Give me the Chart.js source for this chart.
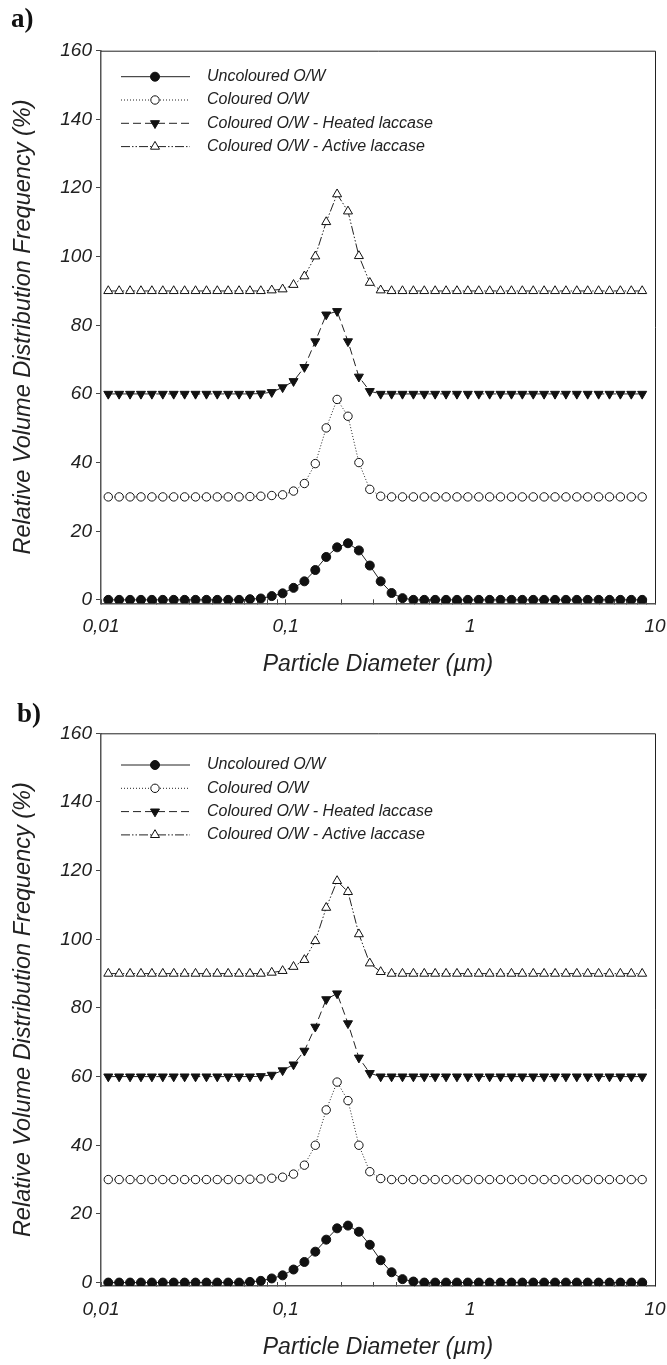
<!DOCTYPE html>
<html>
<head>
<meta charset="utf-8">
<script src="https://cdn.jsdelivr.net/npm/chart.js@4.4.1/dist/chart.umd.min.js"></script>
<style>
  html, body { margin: 0; padding: 0; background: #fff; }
  #page { position: relative; width: 667px; height: 1365px; }
  canvas { position: absolute; left: 0; }
  .panel { position: absolute; font: bold 27px "Liberation Serif", "Times New Roman", serif; color: #111; }
</style>
</head>
<body>
<div id="page">
  <canvas id="chartA" width="667" height="682" style="top:0"></canvas>
  <canvas id="chartB" width="667" height="683" style="top:682px"></canvas>
  <div class="panel" style="left:11px; top:3px">a)</div>
  <div class="panel" style="left:17px; top:698px">b)</div>
</div>
<script>
// particle size classes (µm)
const diameters = [
    0.01095, 0.01254, 0.01437, 0.01646, 0.01886, 0.02161, 0.02476, 0.02837, 0.0325, 0.03724,
    0.04262, 0.04882, 0.05592, 0.06404, 0.07337, 0.08406, 0.09627, 0.1103, 0.1263, 0.1447,
    0.1658, 0.1899, 0.2175, 0.2492, 0.2855, 0.327, 0.3746, 0.4291, 0.4916, 0.5631,
    0.645, 0.7389, 0.8465, 0.9694, 1.111, 1.272, 1.457, 1.67, 1.912, 2.191,
    2.509, 2.875, 3.293, 3.772, 4.321, 4.95, 5.67, 6.495, 7.44, 8.523,
];

const seriesNames = [
    "Uncoloured O/W",
    "Coloured O/W",
    "Coloured O/W - Heated laccase",
    "Coloured O/W - Active laccase",
];

// panel a)
const uncolouredA = [
    0, 0, 0, 0, 0, 0, 0, 0, 0, 0,
    0, 0, 0, 0.2, 0.4, 1.1, 1.9, 3.5, 5.4, 8.7,
    12.5, 15.3, 16.5, 14.4, 10.0, 5.4, 2.0, 0.5, 0, 0,
    0, 0, 0, 0, 0, 0, 0, 0, 0, 0,
    0, 0, 0, 0, 0, 0, 0, 0, 0, 0,
];
const colouredA = [
    30, 30, 30, 30, 30, 30, 30, 30, 30, 30,
    30, 30, 30, 30.1, 30.2, 30.4, 30.6, 31.7, 33.9, 39.7,
    50.1, 58.4, 53.5, 40.0, 32.2, 30.2, 30, 30, 30, 30,
    30, 30, 30, 30, 30, 30, 30, 30, 30, 30,
    30, 30, 30, 30, 30, 30, 30, 30, 30, 30,
];
const heatedA = [
    60, 60, 60, 60, 60, 60, 60, 60, 60, 60,
    60, 60, 60, 60, 60.1, 60.5, 61.9, 63.7, 67.8, 75.3,
    83.1, 84.1, 75.3, 65.0, 60.8, 60, 60, 60, 60, 60,
    60, 60, 60, 60, 60, 60, 60, 60, 60, 60,
    60, 60, 60, 60, 60, 60, 60, 60, 60, 60,
];
const activeA = [
    90, 90, 90, 90, 90, 90, 90, 90, 90, 90,
    90, 90, 90, 90, 90, 90.2, 90.5, 91.8, 94.3, 100.1,
    110.1, 118.2, 113.2, 100.2, 92.4, 90.2, 90, 90, 90, 90,
    90, 90, 90, 90, 90, 90, 90, 90, 90, 90,
    90, 90, 90, 90, 90, 90, 90, 90, 90, 90,
];

// panel b)
const uncolouredB = [
    0, 0, 0, 0, 0, 0, 0, 0, 0, 0,
    0, 0, 0, 0.2, 0.5, 1.2, 2.1, 3.8, 6.0, 9.0,
    12.5, 15.8, 16.6, 14.8, 11.0, 6.5, 3.0, 1.0, 0.3, 0,
    0, 0, 0, 0, 0, 0, 0, 0, 0, 0,
    0, 0, 0, 0, 0, 0, 0, 0, 0, 0,
];
const colouredB = [
    30, 30, 30, 30, 30, 30, 30, 30, 30, 30,
    30, 30, 30, 30.1, 30.2, 30.4, 30.7, 31.6, 34.2, 40.0,
    50.3, 58.4, 53.0, 40.0, 32.3, 30.3, 30, 30, 30, 30,
    30, 30, 30, 30, 30, 30, 30, 30, 30, 30,
    30, 30, 30, 30, 30, 30, 30, 30, 30, 30,
];
const heatedB = [
    60, 60, 60, 60, 60, 60, 60, 60, 60, 60,
    60, 60, 60, 60, 60.1, 60.5, 61.8, 63.5, 67.5, 74.5,
    82.5, 84.2, 75.5, 65.5, 61.0, 60, 60, 60, 60, 60,
    60, 60, 60, 60, 60, 60, 60, 60, 60, 60,
    60, 60, 60, 60, 60, 60, 60, 60, 60, 60,
];
const activeB = [
    90, 90, 90, 90, 90, 90, 90, 90, 90, 90,
    90, 90, 90, 90, 90, 90.3, 90.8, 92.0, 94.0, 99.5,
    109.2, 117.0, 113.8, 101.5, 93.0, 90.5, 90, 90, 90, 90,
    90, 90, 90, 90, 90, 90, 90, 90, 90, 90,
    90, 90, 90, 90, 90, 90, 90, 90, 90, 90,
];

const xTickValues = [
    0.01, 0.02, 0.03, 0.04, 0.05, 0.06, 0.07, 0.08, 0.09,
    0.1, 0.2, 0.3, 0.4, 0.5, 0.6, 0.7, 0.8, 0.9,
    1, 2, 3, 4, 5, 6, 7, 8, 9, 10,
];
const xMajorTicks = [0.01, 0.1, 1, 10];
const xTickLabels = ["0,01", "0,1", "1", "10"];
const yTickValues = [0, 20, 40, 60, 80, 100, 120, 140, 160];

const FONT = "'Liberation Sans', Arial, Helvetica, sans-serif";

const styles = [
    { pointStyle: "circle", fill: "#111", dash: [], radius: 4.5, rotation: 0 },
    { pointStyle: "circle", fill: "#fff", dash: [1, 2], radius: 4.2, rotation: 0 },
    { pointStyle: "triangle", fill: "#111", dash: [8, 4], radius: 5.2, rotation: 180 },
    { pointStyle: "triangle", fill: "#fff", dash: [9, 2, 1.5, 2, 1.5, 2], radius: 5.2, rotation: 0 },
];

const xLabel = (v) => {
    const k = xMajorTicks.findIndex((m) => Math.abs(m - v) < 1e-9);
    return k >= 0 ? xTickLabels[k] : "";
};

// top/right frame and the legend inside the plot
const frameAndLegend = {
    id: "frameAndLegend",
    afterDraw(chart, args, opts) {
        const { ctx, chartArea: a } = chart;
        ctx.save();
        ctx.strokeStyle = "#222";
        ctx.lineWidth = 1;
        ctx.beginPath();
        ctx.moveTo(a.left, a.top + 0.5);
        ctx.lineTo(a.right + 0.5, a.top + 0.5);
        ctx.lineTo(a.right + 0.5, a.bottom);
        ctx.stroke();

        chart.data.datasets.forEach((ds, k) => {
            const y = a.top + opts.rowTop + k * opts.rowGap;
            ctx.strokeStyle = "#222";
            ctx.setLineDash(ds.borderDash);
            ctx.beginPath();
            ctx.moveTo(121, y);
            ctx.lineTo(190, y);
            ctx.stroke();
            ctx.setLineDash([]);
            ctx.fillStyle = ds.pointBackgroundColor;
            ctx.strokeStyle = "#111";
            Chart.helpers.drawPoint(ctx, {
                pointStyle: ds.pointStyle,
                radius: ds.pointRadius,
                rotation: ds.pointRotation,
                borderWidth: 1,
            }, 155, y);
            ctx.fillStyle = "#222";
            ctx.font = "italic 16px " + FONT;
            ctx.textBaseline = "middle";
            ctx.fillText(ds.label, 207, y);
        });
        ctx.restore();
    },
};

function makeChart(id, values, plotTop, plotBottom, rowTop) {
    const canvas = document.getElementById(id);
    const H = canvas.height;
    const datasets = values.map((vals, k) => ({
        label: seriesNames[k],
        data: vals.map((v, i) => ({ x: diameters[i], y: v })),
        borderColor: "#222",
        borderWidth: 1,
        borderDash: styles[k].dash,
        pointStyle: styles[k].pointStyle,
        pointRadius: styles[k].radius,
        pointRotation: styles[k].rotation,
        pointBackgroundColor: styles[k].fill,
        pointBorderColor: "#111",
        pointBorderWidth: 1,
        tension: 0,
        fill: false,
    }));

    return new Chart(canvas, {
        type: "line",
        data: { datasets },
        options: {
            responsive: false,
            animation: false,
            devicePixelRatio: 1,
            layout: { padding: { top: plotTop, right: 12, left: 0, bottom: 0 } },
            plugins: {
                legend: { display: false },
                tooltip: { enabled: false },
                frameAndLegend: { rowTop, rowGap: 23.3 },
            },
            scales: {
                x: {
                    type: "logarithmic",
                    position: "bottom",
                    min: 0.01,
                    max: 10,
                    afterBuildTicks: (axis) => {
                        axis.ticks = xTickValues.map((v) => ({ value: v }));
                    },
                    afterFit: (axis) => {
                        axis.height = H - plotBottom;
                        axis.paddingLeft = 0;
                        axis.paddingRight = 0;
                    },
                    ticks: {
                        autoSkip: false,
                        maxRotation: 0,
                        padding: 16,
                        color: "#222",
                        font: { family: FONT, size: 19, style: "italic" },
                        callback: (v) => xLabel(v),
                    },
                    grid: { drawOnChartArea: false, drawTicks: true, tickLength: -4, color: "#444" },
                    border: { display: true, color: "#555", width: 1.5 },
                    title: {
                        display: true,
                        text: "Particle Diameter (µm)",
                        color: "#222",
                        font: { family: FONT, size: 23, style: "italic" },
                        padding: { top: 0, bottom: 4 },
                    },
                },
                y: {
                    min: -1,
                    max: 160,
                    afterBuildTicks: (axis) => {
                        axis.ticks = yTickValues.map((v) => ({ value: v }));
                    },
                    afterFit: (axis) => {
                        axis.width = 101;
                    },
                    ticks: {
                        padding: 4,
                        color: "#222",
                        font: { family: FONT, size: 19, style: "italic" },
                    },
                    grid: { drawOnChartArea: false, drawTicks: true, tickLength: 5, color: "#444" },
                    border: { display: true, color: "#555", width: 1.5 },
                    title: {
                        display: true,
                        text: "Relative Volume Distribution Frequency (%)",
                        color: "#222",
                        font: { family: FONT, size: 23.5, style: "italic" },
                        padding: { top: 9, bottom: 0 },
                    },
                },
            },
        },
        plugins: [frameAndLegend],
    });
}

makeChart("chartA", [uncolouredA, colouredA, heatedA, activeA], 50.7, 603.3, 26);
makeChart("chartB", [uncolouredB, colouredB, heatedB, activeB], 51.3, 604, 31.7);
</script>
</body>
</html>
